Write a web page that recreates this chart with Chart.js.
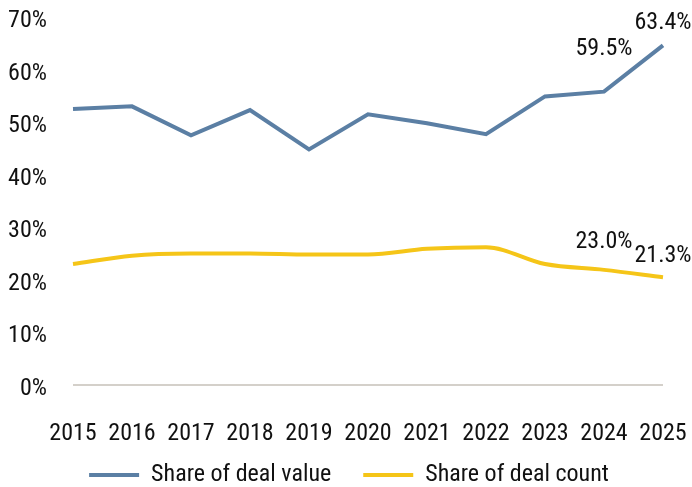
<!DOCTYPE html>
<html>
<head>
<meta charset="utf-8">
<script src="https://cdn.jsdelivr.net/npm/chart.js@4.4.1/dist/chart.umd.min.js"></script>
<style>
  html, body { margin: 0; padding: 0; background: #fff; }
  #wrap { width: 692px; height: 487px; }
</style>
</head>
<body>
<div id="wrap"><canvas id="chart"></canvas></div>
<script>
var years = ['2015', '2016', '2017', '2018', '2019', '2020', '2021', '2022', '2023', '2024', '2025'];
var dealValue = [52.5, 53.0, 47.5, 52.3, 44.8, 51.5, 49.8, 47.7, 54.9, 55.8, 64.6];
var dealCount = [23.0, 24.6, 25.0, 25.0, 24.8, 24.8, 25.9, 26.2, 23.0, 21.9, 20.5];
var valueLabels = [null, null, null, null, null, null, null, null, null, '59.5%', '63.4%'];
var countLabels = [null, null, null, null, null, null, null, null, null, '23.0%', '21.3%'];
var yTicks = [0, 10, 20, 30, 40, 50, 60, 70];

var FONT = "'Roboto Condensed', 'Liberation Sans Narrow', Roboto, sans-serif";

// draws the few end labels above the points
var endLabels = {
  id: 'endLabels',
  afterDatasetsDraw(chart, args, opts) {
    let ctx = chart.ctx;
    ctx.save();
    ctx.font = '24px ' + FONT;
    ctx.fillStyle = '#111';
    ctx.textAlign = 'center';
    ctx.textBaseline = 'middle';
    chart.data.datasets.forEach((ds, i) => {
      let meta = chart.getDatasetMeta(i);
      let lifts = opts.lift[i];
      ds.endText.forEach((txt, j) => {
        if (!txt) return;
        let pt = meta.data[j];
        ctx.fillText(txt, pt.x, pt.y - lifts[j]);
      });
    });
    ctx.restore();
  }
};

// legend padding is also the gap between items, so pin its height,
// and let the x labels spill into the legend box instead of being clipped
var legendFit = {
  id: 'legendFit',
  afterInit(chart) {
    let lg = chart.legend;
    let orig = lg.fit.bind(lg);
    lg.fit = function () {
      orig();
      this.height = 56;
    };
  },
  afterLayout(chart) {
    let x = chart.scales.x;
    x.bottom = x.top + 78;
  }
};

new Chart(document.getElementById('chart'), {
  type: 'line',
  data: {
    labels: years,
    datasets: [
      {
        label: 'Share of deal value',
        data: dealValue,
        endText: valueLabels,
        borderColor: '#5b7fa4',
        backgroundColor: '#5b7fa4',
        borderWidth: 4,
        pointRadius: 0,
        tension: 0
      },
      {
        label: 'Share of deal count',
        data: dealCount,
        endText: countLabels,
        borderColor: '#f5c518',
        backgroundColor: '#f5c518',
        borderWidth: 4,
        pointRadius: 0,
        cubicInterpolationMode: 'monotone',
        tension: 0.3
      }
    ]
  },
  options: {
    responsive: true,
    maintainAspectRatio: false,
    animation: false,
    layout: { padding: { top: 0, right: 0, left: 6, bottom: 0 } },
    scales: {
      x: {
        grid: { display: false, drawTicks: false },
        border: { display: false },
        ticks: {
          padding: 35,
          color: '#111',
          font: { family: FONT, size: 24 },
          maxRotation: 0,
          autoSkip: false
        },
        afterFit: (axis) => {
          axis.height = 46;
          axis.paddingRight = 29;
        }
      },
      y: {
        min: 0,
        max: 70,
        afterBuildTicks: (axis) => { axis.ticks = yTicks.map(v => ({ value: v })); },
        grid: {
          drawTicks: false,
          color: (c) => (c.tick && c.tick.value === 0 ? '#d4d0ca' : 'transparent'),
          lineWidth: 2
        },
        border: { display: false },
        ticks: {
          padding: 26,
          labelOffset: 4,
          color: '#111',
          font: { family: FONT, size: 24 },
          callback: (v) => v + '%'
        },
        afterFit: (axis) => {
          axis.width = 67;
          axis.paddingTop = 17;
          axis.paddingBottom = 0;
        }
      }
    },
    plugins: {
      legend: {
        position: 'bottom',
        labels: {
          color: '#111',
          font: { family: FONT, size: 24, lineHeight: 1 },
          boxWidth: 50,
          boxHeight: 4,
          padding: 32,
          generateLabels: (chart) => chart.data.datasets.map((ds, i) => ({
            text: ds.label,
            fillStyle: ds.borderColor,
            strokeStyle: ds.borderColor,
            lineWidth: 0,
            fontColor: '#111',
            datasetIndex: i
          }))
        }
      },
      tooltip: { enabled: false },
      endLabels: { lift: [[0, 0, 0, 0, 0, 0, 0, 0, 0, 43, 22], [0, 0, 0, 0, 0, 0, 0, 0, 0, 28, 21]] }
    }
  },
  plugins: [endLabels, legendFit]
});
</script>
</body>
</html>
